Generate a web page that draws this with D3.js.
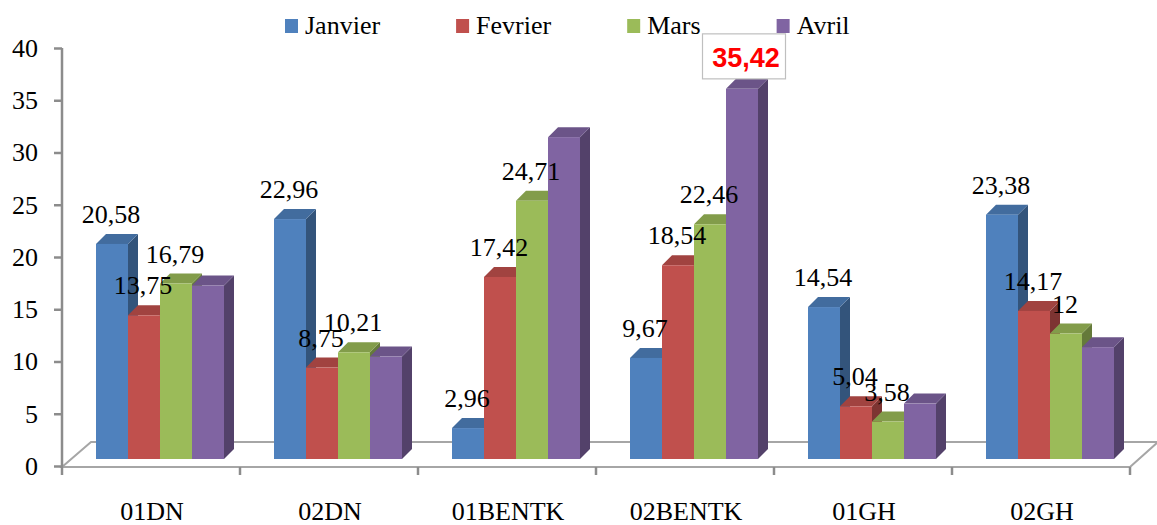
<!DOCTYPE html>
<html>
<head>
<meta charset="utf-8">
<script src="https://cdn.jsdelivr.net/npm/d3@7"></script>
<style>
  html, body { margin: 0; padding: 0; background: #fff; }
  svg { display: block; }
</style>
</head>
<body>
<svg id="chart" width="1157" height="525" font-family="Liberation Serif"></svg>
<script>
const categories = ["01DN", "02DN", "01BENTK", "02BENTK", "01GH", "02GH"];
const seriesNames = ["Janvier", "Fevrier", "Mars", "Avril"];
const seriesColors = ["#4F81BD", "#C0504D", "#9BBB59", "#8064A2"];
const janvier = [20.58, 22.96, 2.96, 9.67, 14.54, 23.38];
const fevrier = [13.75, 8.75, 17.42, 18.54, 5.04, 14.17];
const mars = [16.79, 10.21, 24.71, 22.46, 3.58, 12];
const avril = [16.6, 9.8, 30.8, 35.42, 5.3, 10.7];
const showLabels = [true, true, true, false];
const highlighted = { series: "Avril", category: "02BENTK" };
const yTicks = [0, 5, 10, 15, 20, 25, 30, 35, 40];

const seriesValues = [janvier, fevrier, mars, avril];
const SERIF = "Liberation Serif";

const svg = d3.select("#chart");

// layout
const axisX = 62, floorFrontY = 467, floorRight = 1130;
const floorDX = 28, floorDY = 25;
const depth = 10;
const barBaseShift = 7;
const groupOffset = 34, groupWidth = 128;

const y = d3.scaleLinear().domain([0, 40]).range([466, 48]);
const yb = v => y(v) - barBaseShift;
const x = d3.scaleBand().domain(categories).range([axisX, floorRight]);
const xs = d3.scaleBand().domain(seriesNames).range([0, groupWidth]);

// floor
svg.append("path")
  .attr("d", `M${axisX},${floorFrontY} L${floorRight},${floorFrontY} L${floorRight + floorDX},${floorFrontY - floorDY} L${axisX + floorDX + 1},${floorFrontY - floorDY} Z`)
  .attr("fill", "none")
  .attr("stroke", "#a6a6a6")
  .attr("stroke-width", 2);

// y axis
const yAxis = svg.append("g")
  .attr("transform", `translate(${axisX},0)`)
  .call(d3.axisLeft(y).tickValues(yTicks).tickSize(8).tickPadding(16).tickFormat(d3.format("d")));
yAxis.attr("font-family", SERIF).attr("font-size", 26);
yAxis.select(".domain").attr("stroke", "#8c8c8c").attr("stroke-width", 2.5)
  .attr("d", `M0,${y(40)}V${floorFrontY}`);
yAxis.selectAll(".tick line").attr("stroke", "#8c8c8c").attr("stroke-width", 2.5);
yAxis.selectAll(".tick text").attr("fill", "#000");

// x axis
const boundaries = categories.map(c => x(c)).concat([floorRight]);
svg.append("g").selectAll("line").data(boundaries).join("line")
  .attr("x1", d => d).attr("x2", d => d)
  .attr("y1", floorFrontY).attr("y2", floorFrontY + 8)
  .attr("stroke", "#8c8c8c").attr("stroke-width", 2.5);
svg.append("g").selectAll("text").data(categories).join("text")
  .attr("x", d => x(d) + x.bandwidth() / 2 + 1)
  .attr("y", 520)
  .attr("text-anchor", "middle")
  .attr("font-size", 26)
  .attr("font-family", SERIF)
  .text(d => d);

// bars
const bars = [];
categories.forEach((c, ci) => {
  seriesNames.forEach((s, si) => {
    bars.push({ c, s, si, v: seriesValues[si][ci] });
  });
});

const gBars = svg.append("g");
bars.forEach(b => {
  const col = d3.color(seriesColors[b.si]);
  const x0 = x(b.c) + groupOffset + xs(b.s);
  const w = xs.bandwidth();
  const yt = yb(b.v), y0 = yb(0);
  const g = gBars.append("g");
  g.append("path")
    .attr("d", `M${x0 + w},${yt} L${x0 + w + depth},${yt - depth} L${x0 + w + depth},${y0 - depth} L${x0 + w},${y0} Z`)
    .attr("fill", col.darker(1.2).formatHex());
  g.append("path")
    .attr("d", `M${x0},${yt} L${x0 + depth},${yt - depth} L${x0 + w + depth},${yt - depth} L${x0 + w},${yt} Z`)
    .attr("fill", col.darker(0.5).formatHex());
  g.append("rect")
    .attr("x", x0).attr("y", yt)
    .attr("width", w).attr("height", y0 - yt)
    .attr("fill", col.formatHex());
});

// labels
const fmt = v => String(v).replace(".", ",");
const gLabels = svg.append("g");
bars.forEach(b => {
  const cx = x(b.c) + groupOffset + xs(b.s) + xs.bandwidth() / 2;
  const topBack = yb(b.v) - depth;
  if (b.s === highlighted.series && b.c === highlighted.category) {
    const bw = 83, bh = 45;
    gLabels.append("rect")
      .attr("x", cx + 2 - bw / 2).attr("y", topBack - bh)
      .attr("width", bw).attr("height", bh)
      .attr("fill", "#fff").attr("stroke", "#bfbfbf").attr("stroke-width", 1.2);
    gLabels.append("text")
      .attr("x", cx + 4).attr("y", topBack - 12)
      .attr("text-anchor", "middle")
      .attr("font-family", "Liberation Sans")
      .attr("font-weight", "bold")
      .attr("font-size", 27)
      .attr("fill", "#ff0000")
      .text(fmt(b.v));
  } else if (showLabels[b.si]) {
    gLabels.append("text")
      .attr("x", cx - 1).attr("y", topBack - 11)
      .attr("text-anchor", "middle")
      .attr("font-size", 26)
      .attr("font-family", SERIF)
      .attr("fill", "#000")
      .text(fmt(b.v));
  }
});

// legend
const legend = svg.append("g");
let lx = 285;
seriesNames.forEach((s, i) => {
  legend.append("rect")
    .attr("x", lx).attr("y", 19).attr("width", 13).attr("height", 14)
    .attr("fill", seriesColors[i]);
  const t = legend.append("text")
    .attr("x", lx + 20).attr("y", 34)
    .attr("font-size", 26)
    .attr("font-family", SERIF)
    .text(s);
  lx += 20 + t.node().getComputedTextLength() + 76;
});
</script>
</body>
</html>
